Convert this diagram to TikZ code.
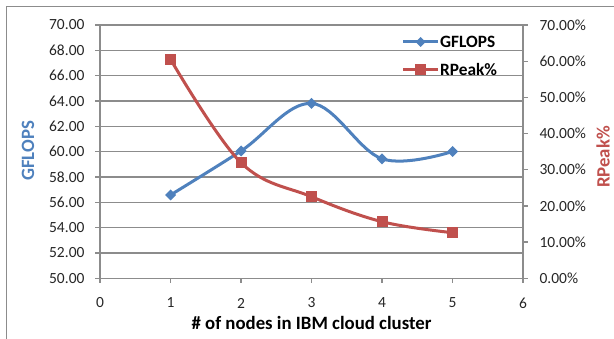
\documentclass[tikz,border=0pt]{standalone}
\usepackage{fontspec}
\setmainfont{Carlito}
\definecolor{gfblue}{HTML}{4F81BD}
\definecolor{rpred}{HTML}{C0504D}
\definecolor{axgrey}{HTML}{8C8C8C}
\tikzset{
  gridline/.style={axgrey, line width=1.3pt},
  ticklabel/.style={font=\fontsize{15.5}{18}\selectfont, text=black!85},
  titlelabel/.style={font=\fontsize{18.8}{22}\selectfont\bfseries},
  legendlabel/.style={font=\fontsize{17.3}{20}\selectfont\bfseries, anchor=west, inner sep=0pt},
  gfline/.style={gfblue, line width=3pt, line join=round},
  rpline/.style={rpred, line width=3pt, line join=round},
}
\begin{document}
\begin{tikzpicture}[x=1pt,y=1pt]
\useasboundingbox (0,0) rectangle (614,338);
% frame
\draw [axgrey, line width=1pt] (6,-5) -- (6,331) -- (620,331);

% grid and axes
\foreach \k in {1,...,10}
  \draw [gridline] (100,{59.7+25.33*\k}) -- (523,{59.7+25.33*\k});
\draw [gridline] (100,313) -- (100,59.7) -- (523,59.7) -- (523,313);

\foreach \k/\t in {0/50.00,1/52.00,2/54.00,3/56.00,4/58.00,5/60.00,6/62.00,7/64.00,8/66.00,9/68.00,10/70.00} {
  \draw [gridline] (95,{59.7+25.33*\k}) -- (100,{59.7+25.33*\k});
  \node [ticklabel, anchor=east] at (88,{59.7+25.33*\k}) {\t};
}
\foreach \k/\t in {0/0.00,1/10.00,2/20.00,3/30.00,4/40.00,5/50.00,6/60.00,7/70.00} {
  \draw [gridline] (523,{59.7+36.19*\k}) -- (528,{59.7+36.19*\k});
  \node [ticklabel, anchor=west] at (536,{59.7+36.19*\k}) {\t\%};
}
\foreach \i in {0,...,6} {
  \draw [gridline] ({100+70.5*\i},59.7) -- ({100+70.5*\i},54.7);
  \node [ticklabel] at ({100+70.5*\i},35) {\i};
}

% data points
\coordinate (g1) at (170.5,143.0);
\coordinate (g2) at (241,187.0);
\coordinate (g3) at (311.5,234.6);
\coordinate (g4) at (382,179.2);
\coordinate (g5) at (452.5,186.5);
\coordinate (r1) at (170.5,278.7);
\coordinate (r2) at (241,175.3);
\coordinate (r3) at (311.5,141.3);
\coordinate (r4) at (382,116.3);
\coordinate (r5) at (452.5,105.3);

% series
\draw [gfline] plot [smooth, tension=0.6] coordinates {(g1) (g2) (g3) (g4) (g5)};
\foreach \p in {g1,g2,g3,g4,g5}
  \fill [gfblue] (\p) +(-5.5,0) -- +(0,5.5) -- +(5.5,0) -- +(0,-5.5) -- cycle;
\draw [rpline] plot [smooth, tension=0.6] coordinates {(r1) (r2) (r3) (r4) (r5)};
\foreach \p in {r1,r2,r3,r4,r5}
  \fill [rpred] (\p) +(-5.5,-5.5) rectangle +(5.5,5.5);

% legend
\coordinate (lg) at (420.5,296);
\coordinate (lr) at (420.5,268);
\draw [gfline] (lg) +(-17.5,0) -- +(17.5,0);
\fill [gfblue] (lg) +(-5,0) -- +(0,5) -- +(5,0) -- +(0,-5) -- cycle;
\node [legendlabel] at (440,296) {GFLOPS};
\draw [rpline] (lr) +(-17.5,0) -- +(17.5,0);
\fill [rpred] (lr) +(-5.5,-5.5) rectangle +(5.5,5.5);
\node [legendlabel] at (440,268) {RPeak\%};

% titles
\node [titlelabel, text=gfblue, rotate=90] at (28,187) {GFLOPS};
\node [titlelabel, text=rpred, rotate=90] at (603,181) {RPeak\%};
\node [titlelabel] at (311.5,15) {\# of nodes in IBM cloud cluster};
\end{tikzpicture}
\end{document}
